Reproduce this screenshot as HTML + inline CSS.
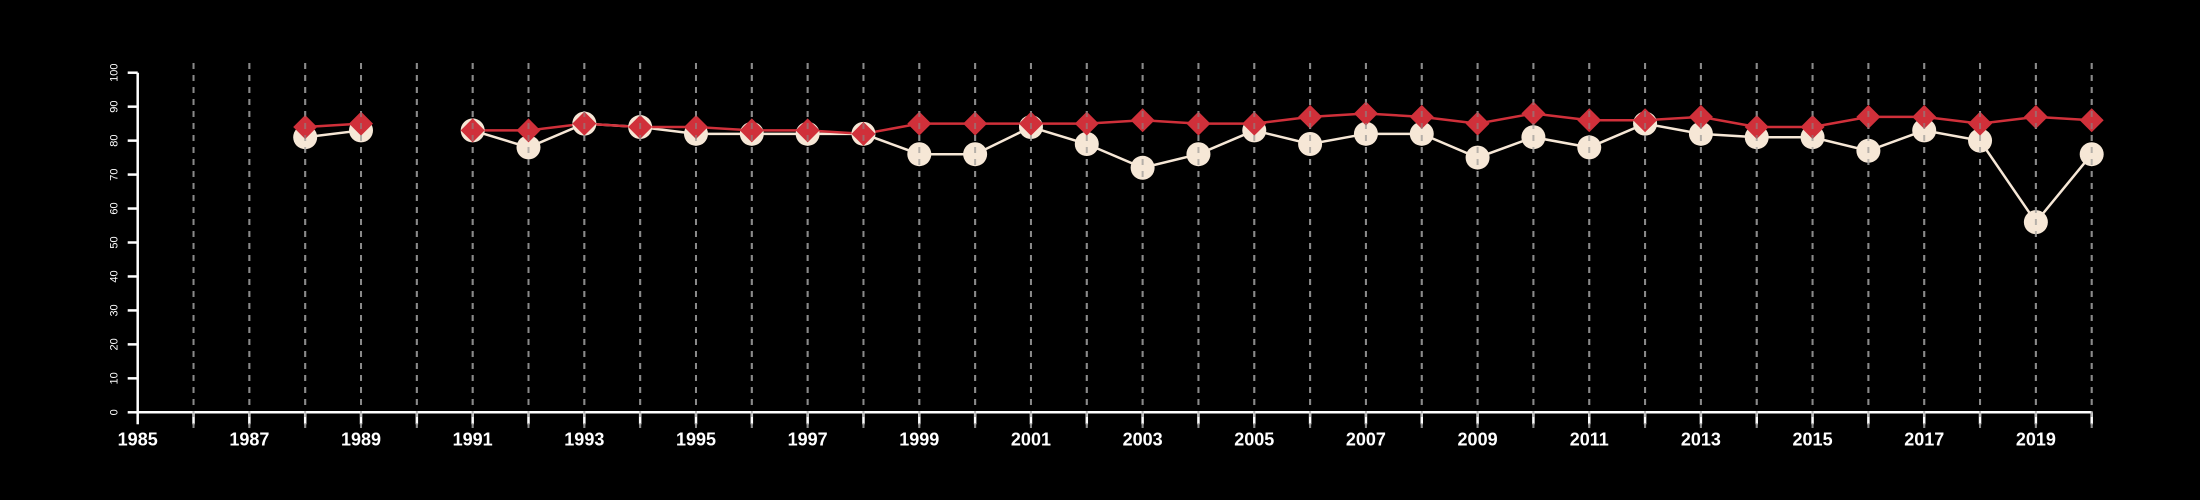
<!DOCTYPE html>
<html><head><meta charset="utf-8"><style>
html,body{margin:0;padding:0;background:#000;}
svg{display:block;}
text{font-family:"Liberation Sans",Arial,sans-serif;fill:#fff;}
</style></head>
<body>
<svg id="chart" width="2200" height="500" viewBox="0 0 2200 500" xmlns="http://www.w3.org/2000/svg">
<rect width="2200" height="500" fill="#000"/>
<g id="grid"></g>
<g id="axes"></g>
<g id="series"></g>
<g id="grid2"></g>
</svg>
<script>
const years = [1988,1989,1990,1991,1992,1993,1994,1995,1996,1997,1998,1999,2000,2001,2002,2003,2004,2005,2006,2007,2008,2009,2010,2011,2012,2013,2014,2015,2016,2017,2018,2019,2020];
const seriesCream = [81,83,null,83,78,85,84,82,82,82,82,76,76,84,79,72,76,83,79,82,82,75,81,78,85,82,81,81,77,83,80,56,76];
const seriesRed = [84,85,null,83,83,85,84,84,83,83,82,85,85,85,85,86,85,85,87,88,87,85,88,86,86,87,84,84,87,87,85,87,86];
const yTicks = [0,10,20,30,40,50,60,70,80,90,100];
const xTickLabels = [1985,1987,1989,1991,1993,1995,1997,1999,2001,2003,2005,2007,2009,2011,2013,2015,2017,2019];

const NS = "http://www.w3.org/2000/svg";
const X0 = 137.7, X1 = 2091.7, Y0 = 412.3, Y1 = 72.7;
const xMin = 1985, xMax = 2020;
function sx(v){ return X0 + (v - xMin) / (xMax - xMin) * (X1 - X0); }
function sy(v){ return Y0 - v / 100 * (Y0 - Y1); }
function mk(tag, attrs, parent){
  const e = document.createElementNS(NS, tag);
  for (const k in attrs) e.setAttribute(k, attrs[k]);
  parent.appendChild(e);
  return e;
}
const grid = document.getElementById('grid');
const grid2 = document.getElementById('grid2');
const axes = document.getElementById('axes');
const ser = document.getElementById('series');

for (let yr = 1986; yr <= 2020; yr++) {
  [grid, grid2].forEach(g => {
    const l = mk('line', {x1: sx(yr), x2: sx(yr), y1: 63, y2: 428, stroke: '#8a8a8a', 'stroke-width': 2, 'stroke-dasharray': '6,6'}, g);
    
    
  });
}
grid2.setAttribute('opacity', '0.75');

// axes
let a = mk('line', {x1: X0, x2: X1, y1: Y0, y2: Y0, stroke: '#fff', 'stroke-width': 2.5}, axes);


a = mk('line', {x1: X0, x2: X0, y1: Y0, y2: Y1, stroke: '#fff', 'stroke-width': 2.5}, axes);


for (let yr = 1985; yr <= 2020; yr++) {
  const t = mk('line', {x1: sx(yr), x2: sx(yr), y1: Y0, y2: Y0 + 12, stroke: '#fff', 'stroke-width': 2.5}, axes);
  
  
}
xTickLabels.forEach(v => {
  const t = mk('text', {x: sx(v), y: Y0 + 33, 'text-anchor': 'middle', 'font-size': 18, 'font-weight': 'bold'}, axes);
  t.textContent = v;
  
  
});
yTicks.forEach(v => {
  const t = mk('line', {x1: X0 - 10, x2: X0, y1: sy(v), y2: sy(v), stroke: '#fff', 'stroke-width': 2.5}, axes);
  
  
  const lx = X0 - 20, ly = sy(v);
  const tx = mk('text', {x: lx, y: ly, 'text-anchor': 'middle', 'font-size': 11, transform: 'rotate(-90 ' + lx + ' ' + ly + ')'}, axes);
  tx.textContent = v;
  
  
});

function drawLine(vals, color, name){
  let seg = [];
  const segs = [];
  vals.forEach((v, i) => {
    if (v === null) { if (seg.length) segs.push(seg); seg = []; }
    else seg.push(sx(years[i]) + ',' + sy(v));
  });
  if (seg.length) segs.push(seg);
  segs.forEach(s => {
    const p = mk('polyline', {points: s.join(' '), fill: 'none', stroke: color, 'stroke-width': 2.5}, ser);
    
    
  });
}
drawLine(seriesCream, '#f6e7d6', 'cream-series-line');
drawLine(seriesRed, '#d0303a', 'red-series-line');
seriesCream.forEach((v, i) => {
  if (v === null) return;
  const c = mk('circle', {cx: sx(years[i]), cy: sy(v), r: 12, fill: '#f6e7d6'}, ser);
  
  
});
seriesRed.forEach((v, i) => {
  if (v === null) return;
  const x = sx(years[i]), y = sy(v), d = 12;
  const p = mk('polygon', {points: `${x},${y-d} ${x+d},${y} ${x},${y+d} ${x-d},${y}`, fill: '#d0303a'}, ser);
  
  
});
// overlay gridlines only visible on cream markers (dashes visible over circles)
document.getElementById('chart').appendChild(grid2);
grid2.setAttribute('opacity', '0.6');
</script>
</body></html>
